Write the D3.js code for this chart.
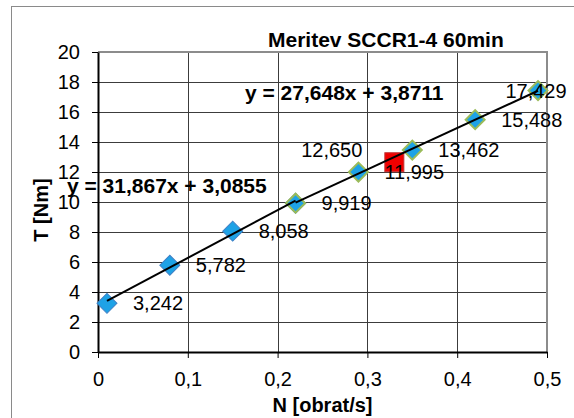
<!DOCTYPE html>
<html>
<head>
<meta charset="utf-8">
<script src="https://cdn.jsdelivr.net/npm/d3@7"></script>
<style>
  body { margin: 0; background: #fff; }
  svg { display: block; }
  text { font-family: "Liberation Sans", Arial, sans-serif; fill: #000; }
</style>
</head>
<body>
<svg id="chart" width="574" height="418"></svg>
<script>
// data
const series1N = [0.01, 0.08, 0.15, 0.22];
const series1T = [3.242, 5.782, 8.058, 9.919];
const series2N = [0.22, 0.29, 0.35, 0.42, 0.49];
const series2T = [9.919, 11.995, 13.462, 15.488, 17.429];
const redN = [0.33];
const redT = [12.65];
const trendSlope = [31.867, 27.648];
const trendIntercept = [3.0855, 3.8711];
const xTicks = [0, 0.1, 0.2, 0.3, 0.4, 0.5];
const yTicks = [0, 2, 4, 6, 8, 10, 12, 14, 16, 18, 20];

const title = "Meritev SCCR1-4 60min";
const xTitle = "N [obrat/s]";
const yTitle = "T [Nm]";

let locale = d3.formatLocale({decimal: ",", thousands: ".", grouping: [3], currency: ["", ""]});
let fmtVal = locale.format(".3f");
let fmtTick = locale.format("~g");

let svg = d3.select("#chart");

// outer chart border (runs off the right/bottom edge)
svg.append("rect")
  .attr("x", 11.5).attr("y", 6.5)
  .attr("width", 700).attr("height", 500)
  .attr("fill", "none").attr("stroke", "#8a8a8a").attr("stroke-width", 1);

let margin = {top: 52, right: 27, bottom: 66, left: 98},
    width = 574 - margin.left - margin.right,
    height = 418 - margin.top - margin.bottom;

let x = d3.scaleLinear().domain([0, 0.5]).range([margin.left, margin.left + width]);
let y = d3.scaleLinear().domain([0, 20]).range([margin.top + height, margin.top]);

// gridlines
svg.append("g").selectAll("line")
  .data(yTicks.slice(1, -1))
  .join("line")
  .attr("x1", x(0)).attr("x2", x(0.5))
  .attr("y1", d => Math.round(y(d)) + 0.5).attr("y2", d => Math.round(y(d)) + 0.5)
  .attr("stroke", "#3c3c3c").attr("stroke-width", 1);

svg.append("g").selectAll("line")
  .data(xTicks.slice(1, -1))
  .join("line")
  .attr("x1", d => Math.round(x(d)) + 0.5).attr("x2", d => Math.round(x(d)) + 0.5)
  .attr("y1", y(0)).attr("y2", y(20))
  .attr("stroke", "#3c3c3c").attr("stroke-width", 1);

// plot area border, top and right in gray
svg.append("path")
  .attr("d", `M${x(0)},${y(20)}H${x(0.5)}V${y(0)}`)
  .attr("fill", "none").attr("stroke", "#8c8c8c").attr("stroke-width", 2);

// axes
let yAxis = svg.append("g")
  .attr("transform", `translate(${x(0)},0)`)
  .call(d3.axisLeft(y).tickValues(yTicks).tickFormat(fmtTick).tickSize(6).tickSizeOuter(0).tickPadding(12));

let xAxis = svg.append("g")
  .attr("transform", `translate(0,${y(0)})`)
  .call(d3.axisBottom(x).tickValues(xTicks).tickFormat(fmtTick).tickSize(6).tickSizeOuter(0).tickPadding(14));

[xAxis, yAxis].forEach(function (g) {
  g.select(".domain").attr("stroke", "#000").attr("stroke-width", 2);
  g.selectAll(".tick line").attr("stroke", "#000").attr("stroke-width", 1);
  g.selectAll(".tick text")
    .attr("font-family", "Liberation Sans, Arial, sans-serif")
    .attr("font-size", 20).attr("fill", "#000");
});

// markers
let s1 = series1N.map((d, i) => ({n: d, t: series1T[i]}));
let s2 = series2N.map((d, i) => ({n: d, t: series2T[i]}));
let s3 = redN.map((d, i) => ({n: d, t: redT[i]}));

svg.append("g").selectAll("path")
  .data(s1)
  .join("path")
  .attr("d", d3.symbol(d3.symbolSquare, 200))
  .attr("transform", d => `translate(${x(d.n)},${y(d.t)}) rotate(45)`)
  .attr("fill", "#1ea2e6").attr("stroke", "#3f7fc4").attr("stroke-width", 1);

svg.append("g").selectAll("path")
  .data(s2)
  .join("path")
  .attr("d", d3.symbol(d3.symbolSquare, 180))
  .attr("transform", d => `translate(${x(d.n)},${y(d.t)}) rotate(45)`)
  .attr("fill", "#1ea2e6").attr("stroke", "#9bbb59").attr("stroke-width", 2);

svg.append("g").selectAll("rect")
  .data(s3)
  .join("rect")
  .attr("x", d => x(d.n) - 9.5).attr("y", d => y(d.t) - 9.5)
  .attr("width", 19).attr("height", 19)
  .attr("fill", "#f00000").attr("stroke", "#c03030").attr("stroke-width", 1);

// trendlines
let trendRanges = [d3.extent(series1N), d3.extent(series2N)];
svg.append("g").selectAll("line")
  .data(trendRanges)
  .join("line")
  .attr("x1", d => x(d[0]))
  .attr("y1", (d, i) => y(trendSlope[i] * d[0] + trendIntercept[i]))
  .attr("x2", d => x(d[1]))
  .attr("y2", (d, i) => y(trendSlope[i] * d[1] + trendIntercept[i]))
  .attr("stroke", "#000").attr("stroke-width", 2);

// data labels
let labels = s1.slice(0, 3).concat(s2).map(d => ({n: d.n, t: d.t, dx: 26, dy: 0, anchor: "start"}));
labels[labels.length - 1].dx = -2;
labels[labels.length - 1].anchor = "middle";
labels.push({n: s3[0].n, t: s3[0].t, dx: -32, dy: -12, anchor: "end"});

svg.append("g").selectAll("text")
  .data(labels)
  .join("text")
  .attr("x", d => x(d.n) + d.dx)
  .attr("y", d => y(d.t) + d.dy)
  .attr("dy", "0.35em")
  .attr("text-anchor", d => d.anchor)
  .attr("font-size", 20)
  .text(d => fmtVal(d.t));

// trend equations
let eqPos = [[67, 193], [245, 100]];
svg.append("g").selectAll("text")
  .data(eqPos)
  .join("text")
  .attr("x", d => d[0]).attr("y", d => d[1])
  .attr("font-size", 21).attr("font-weight", "bold")
  .text((d, i) => `y = ${locale.format(".3f")(trendSlope[i])}x + ${locale.format(".4f")(trendIntercept[i])}`);

// titles
svg.append("text")
  .attr("x", 268).attr("y", 47)
  .attr("font-size", 21).attr("font-weight", "bold")
  .text(title);

svg.append("text")
  .attr("x", (x(0) + x(0.5)) / 2).attr("y", 412)
  .attr("text-anchor", "middle")
  .attr("font-size", 20).attr("font-weight", "bold")
  .text(xTitle);

svg.append("text")
  .attr("transform", `translate(48,${(y(0) + y(20)) / 2 + 8}) rotate(-90)`)
  .attr("text-anchor", "middle")
  .attr("font-size", 20).attr("font-weight", "bold")
  .text(yTitle);
</script>
</body>
</html>
